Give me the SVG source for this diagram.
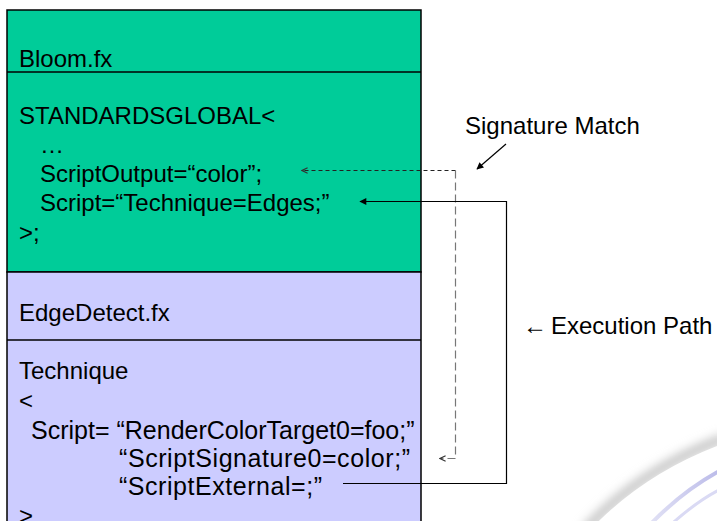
<svg xmlns="http://www.w3.org/2000/svg" width="717" height="521" viewBox="0 0 717 521">
  <defs>
    <style>
      .t { font-family: "Liberation Sans", Arial, sans-serif; font-size: 24px; fill: #000; }
      .code { font-size: 25px; }
      .box { stroke: #000; stroke-width: 1.5; }
      .sep { stroke: #000; stroke-width: 1.5; fill: none; }
      .solid { stroke: #000; stroke-width: 1.2; fill: none; }
      .dash-dark { stroke: #222; stroke-width: 1.2; fill: none; stroke-dasharray: 4 3; }
      .dash-grey { stroke: #777; stroke-width: 1.2; fill: none; stroke-dasharray: 8 4; }
    </style>
    <marker id="head" viewBox="0 0 10 10" refX="9" refY="5" markerWidth="9" markerHeight="7" markerUnits="userSpaceOnUse" orient="auto">
      <path d="M0,0 L10,5 L0,10 Z" fill="#000"/>
    </marker>
    <marker id="open" viewBox="0 0 10 10" refX="9" refY="5" markerWidth="7" markerHeight="7" markerUnits="userSpaceOnUse" orient="auto">
      <path d="M1,1 L9,5 L1,9" fill="none" stroke="#333" stroke-width="1.6"/>
    </marker>
    <linearGradient id="swoosh" x1="0" y1="0" x2="1" y2="0">
      <stop offset="0" stop-color="#e4e4f6"/>
      <stop offset="1" stop-color="#b8b8e8"/>
    </linearGradient>
    <filter id="soft" x="-20%" y="-20%" width="140%" height="140%">
      <feGaussianBlur stdDeviation="5"/>
    </filter>
  </defs>

  <rect width="717" height="521" fill="#fff"/>

  <!-- corner decoration -->
  <g id="decoration">
    <path d="M585,530 Q640,470 725,438" fill="none" stroke="#c8c8c8" stroke-width="10" filter="url(#soft)"/>
    <path d="M590,530 Q645,472 725,443 L725,530 Z" fill="#fff"/>
    <path d="M645,530 Q682,490 725,468" fill="none" stroke="url(#swoosh)" stroke-width="4"/>
    <path d="M665,530 Q697,500 725,487" fill="none" stroke="#dadaf4" stroke-width="3"/>
  </g>

  <!-- Bloom.fx block -->
  <g id="bloom">
    <rect class="box" x="7" y="10" width="414" height="262" fill="#00CC99"/>
    <line class="sep" x1="7" y1="72" x2="421" y2="72"/>
    <text class="t" x="19" y="67">Bloom.fx</text>
    <text class="t" x="19" y="124">STANDARDSGLOBAL&lt;</text>
    <text class="t" x="40" y="153">…</text>
    <text class="t" x="40" y="182">ScriptOutput=“color”;</text>
    <text class="t" x="40" y="211">Script=“Technique=Edges;”</text>
    <text class="t" x="19" y="241">&gt;;</text>
  </g>

  <!-- EdgeDetect.fx block -->
  <g id="edgedetect">
    <rect class="box" x="7" y="272" width="414" height="260" fill="#CCCCFF"/>
    <line class="sep" x1="7" y1="340" x2="421" y2="340"/>
    <text class="t" x="19" y="321">EdgeDetect.fx</text>
    <text class="t" x="19" y="379">Technique</text>
    <text class="t" x="19" y="409">&lt;</text>
    <text class="t code" x="31" y="439">Script= “RenderColorTarget0=foo;”</text>
    <text class="t code" x="119" y="467" textLength="291" lengthAdjust="spacing">“ScriptSignature0=color;”</text>
    <text class="t code" x="119" y="495" textLength="203" lengthAdjust="spacing">“ScriptExternal=;”</text>
    <text class="t" x="19" y="524">&gt;</text>
  </g>

  <!-- connectors -->
  <g id="connectors">
    <path class="dash-dark" d="M455.5,170.5 H302" marker-end="url(#open)"/>
    <path class="dash-grey" d="M455.5,170.5 V458.5 H440" marker-end="url(#open)"/>
    <path class="solid" d="M343,483.5 H506.5 V201.5 H360" marker-end="url(#head)"/>
    <path class="solid" d="M506,144 L477,169" marker-end="url(#head)"/>
  </g>

  <!-- labels -->
  <g id="labels">
    <text class="t" x="465" y="134">Signature Match</text>
    <text class="t" x="523" y="334" font-size="20">←</text>
    <text class="t" x="551" y="334">Execution Path</text>
  </g>
</svg>
